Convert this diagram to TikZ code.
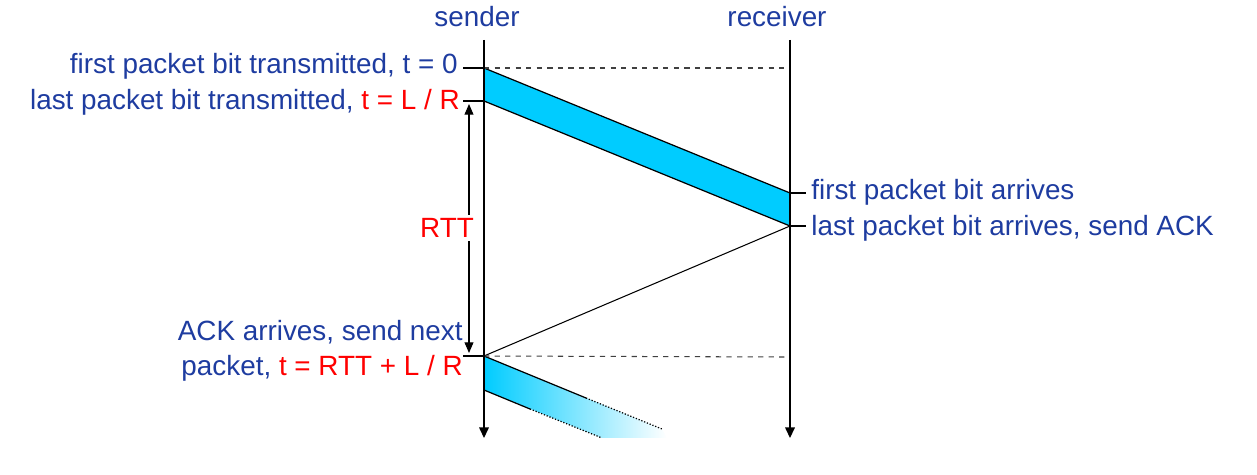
\documentclass[tikz,border=0pt]{standalone}
\usepackage{fontspec}
\setmainfont{Liberation Sans}
\usetikzlibrary{arrows.meta}
\definecolor{txtblue}{RGB}{30,60,160}
\definecolor{band}{RGB}{0,204,255}
\begin{document}
\begin{tikzpicture}[x=0.02cm,y=-0.02cm,
  lbl/.style={text=txtblue,font=\fontsize{15.85}{19.8}\selectfont,inner sep=0pt},
  redt/.style={text=red},
  timeline/.style={line width=0.7pt,-{Triangle[width=5.5pt,length=6pt]}},
  tick/.style={line width=1.1pt},
  dash line/.style={dashed,line width=0.6pt,black!75}]
\useasboundingbox (0,0) rectangle (1257,475);
% coordinates
\coordinate (s0) at (484,40); \coordinate (s1) at (484,438);
\coordinate (r0) at (790,40); \coordinate (r1) at (790,438);
\coordinate (a) at (484,68); \coordinate (b) at (484,101);
\coordinate (c) at (790,193); \coordinate (d) at (790,226);
\coordinate (e) at (484,356); \coordinate (f) at (484,390);
\coordinate (ta) at (463,68); \coordinate (tb) at (463,101); \coordinate (te) at (463,356);
\coordinate (tc) at (806,193); \coordinate (td) at (806,226);
\coordinate (da) at (785,68); \coordinate (de) at (785,357);
\coordinate (e1) at (586,398); \coordinate (e2) at (662,429);
\coordinate (f1) at (530,409); \coordinate (f2) at (602,438);
\coordinate (rt0) at (469,104); \coordinate (rt1) at (469,353);
% packet band
\filldraw[fill=band,draw=black,line width=0.7pt] (a) -- (c) -- (d) -- (b) -- cycle;
% next packet (fading)
\shade[left color=band,right color=white] (e) -- (e2) -- (667,438) -- (f2) -- (f) -- cycle;
\draw[line width=0.7pt] (e) -- (e1);
\draw[densely dotted,line width=0.7pt] (e1) -- (e2);
\draw[line width=0.7pt] (f) -- (f1);
\draw[densely dotted,line width=0.7pt] (f1) -- (f2);
% ACK
\draw[line width=0.6pt] (d) -- (e);
% dashed
\draw[dash line] (a) -- (da);
\draw[dash line] (e) -- (de);
% timelines
\draw[timeline] (s0) -- (s1);
\draw[timeline] (r0) -- (r1);
% ticks
\draw[tick] (ta) -- (a);
\draw[tick] (tb) -- (b);
\draw[tick] (te) -- (e);
\draw[tick] (c) -- (tc);
\draw[tick] (d) -- (td);
% RTT arrow
\draw[line width=0.6pt,{Triangle[width=5pt,length=6pt]}-{Triangle[width=5pt,length=6pt]}] (rt0) -- (rt1);
\node[lbl,redt,fill=white,inner sep=2pt] (rtt) at (447,228) {RTT};
% labels
\node[lbl] (snd) at (477,17) {sender};
\node[lbl] (rcv) at (777,17) {receiver};
\node[lbl,anchor=east] (l0) at (458,66) {first packet bit transmitted, t = 0};
\node[lbl,anchor=east] (l1) at (460,102) {last packet bit transmitted, \textcolor{red}{t = L / R}};
\node[lbl,anchor=west] (l2) at (811,192) {first packet bit arrives};
\node[lbl,anchor=west] (l3) at (811,228) {last packet bit arrives, send ACK};
\node[lbl,anchor=east,align=right] (l4) at (463,351) {ACK arrives, send next\\packet, \textcolor{red}{t = RTT + L / R}};
\end{tikzpicture}
\end{document}
